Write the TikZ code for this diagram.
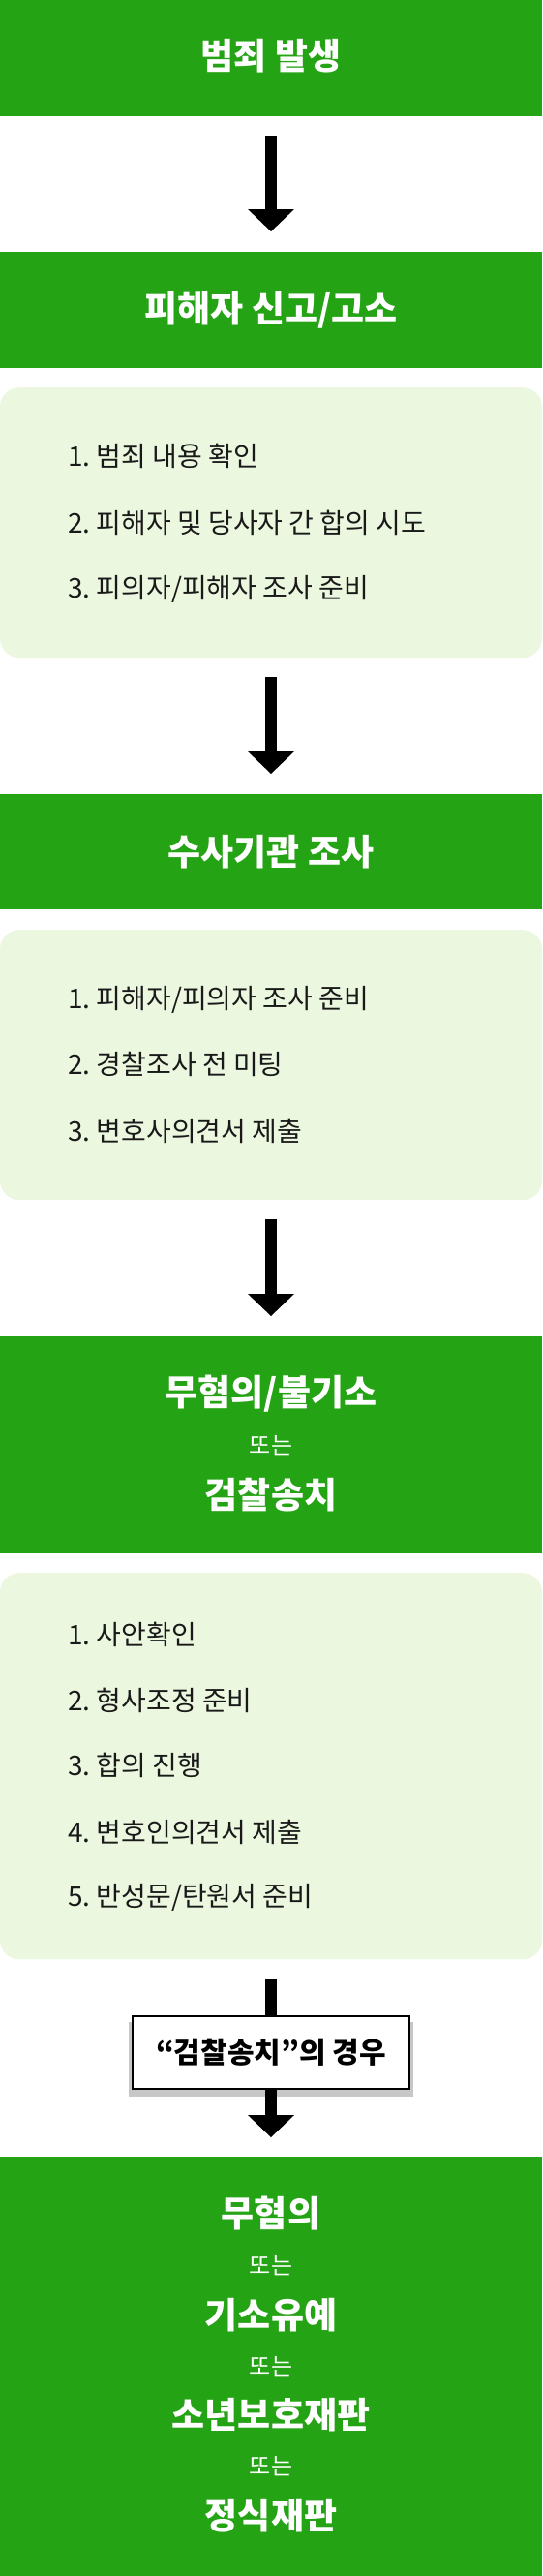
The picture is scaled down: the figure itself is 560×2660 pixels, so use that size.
\documentclass[tikz,border=0pt]{standalone}
\usepackage{fontspec}
\setmainfont{Noto Sans CJK KR}
\usepackage{tikz}
\usetikzlibrary{arrows.meta,shadows}

\definecolor{boxgreen}{HTML}{24A314}
\definecolor{boxlight}{HTML}{EBF7DF}

\tikzset{
  stage/.style={fill=boxgreen, minimum width=560pt, inner sep=0pt, anchor=north},
  tasks/.style={fill=boxlight, rounded corners=20pt, minimum width=560pt, inner sep=0pt, anchor=north},
  title/.style={text=white, inner sep=0pt, font=\bfseries\fontsize{37}{42}\selectfont},
  ornote/.style={text=white, inner sep=0pt, font=\fontsize{24}{28}\selectfont},
  item/.style={text=black!90, inner sep=0pt, anchor=west, font=\fontsize{28}{32}\selectfont},
  casebox/.style={draw, line width=2pt, fill=white, minimum width=286pt, minimum height=75pt, inner sep=0pt,
    font=\bfseries\fontsize{30}{34}\selectfont,
    drop shadow={shadow xshift=0pt, shadow yshift=-7pt, shadow scale=1.03, fill=black!22, opacity=1}},
  flow/.style={line width=12pt, -{Triangle[length=23pt,width=48pt,line width=0pt]}, shorten <=20pt, shorten >=21pt}
}

\begin{document}
\begin{tikzpicture}[x=1pt,y=-1pt]

\useasboundingbox (0,0) rectangle (560,2660);

\node[stage, minimum height=120pt] (g1) at (280,0) {};
\node[stage, minimum height=119.5pt] (g2) at (280,260) {};
\node[stage, minimum height=119pt] (g3) at (280,820) {};
\node[stage, minimum height=224pt] (g4) at (280,1380) {};
\node[stage, minimum height=433pt] (g5) at (280,2227) {};

\node[tasks, minimum height=279pt] (l1) at (280,400) {};
\node[tasks, minimum height=279pt] (l2) at (280,960) {};
\node[tasks, minimum height=399pt] (l3) at (280,1624) {};

\node[title] (t1) at (280,58) {범죄 발생};
\node[title] (t2) at (280,320) {피해자 신고/고소};
\node[title] (t3) at (280,880) {수사기관 조사};
\node[title] (t4) at (280,1439) {무혐의/불기소};
\node[ornote] (o1) at (280,1493) {또는};
\node[title] (t5) at (280,1544) {검찰송치};

\node[title] (t6) at (280,2286) {무혐의};
\node[ornote] (o2) at (280,2340) {또는};
\node[title] (t7) at (280,2391) {기소유예};
\node[ornote] (o3) at (280,2444) {또는};
\node[title] (t8) at (280,2494) {소년보호재판};
\node[ornote] (o4) at (280,2547) {또는};
\node[title] (t9) at (280,2598) {정식재판};

\foreach \y/\txt [count=\i] in {471/{범죄 내용 확인}, 540/{피해자 및 당사자 간 합의 시도}, 608/{피의자/피해자 조사 준비}}
    \node[item] (a\i) at (70,\y) {\i.\ \txt};

\foreach \y/\txt [count=\i] in {1032/{피해자/피의자 조사 준비}, 1099/{경찰조사 전 미팅}, 1168/{변호사의견서 제출}}
    \node[item] (b\i) at (70,\y) {\i.\ \txt};

\foreach \y/\txt [count=\i] in {1688/{사안확인}, 1756/{형사조정 준비}, 1823/{합의 진행}, 1892/{변호인의견서 제출}, 1959/{반성문/탄원서 준비}}
    \node[item] (c\i) at (70,\y) {\i.\ \txt};

\node[casebox] (case) at (280,2119.5) {“검찰송치”의 경우};

\draw[flow] (g1) -- (g2);
\draw[flow] (l1) -- (g3);
\draw[flow] (l2) -- (g4);
\draw[line width=12pt, shorten <=21pt] (l3) -- (case);
\draw[flow, shorten <=0pt, shorten >=20pt] (case) -- (g5);

\end{tikzpicture}
\end{document}
